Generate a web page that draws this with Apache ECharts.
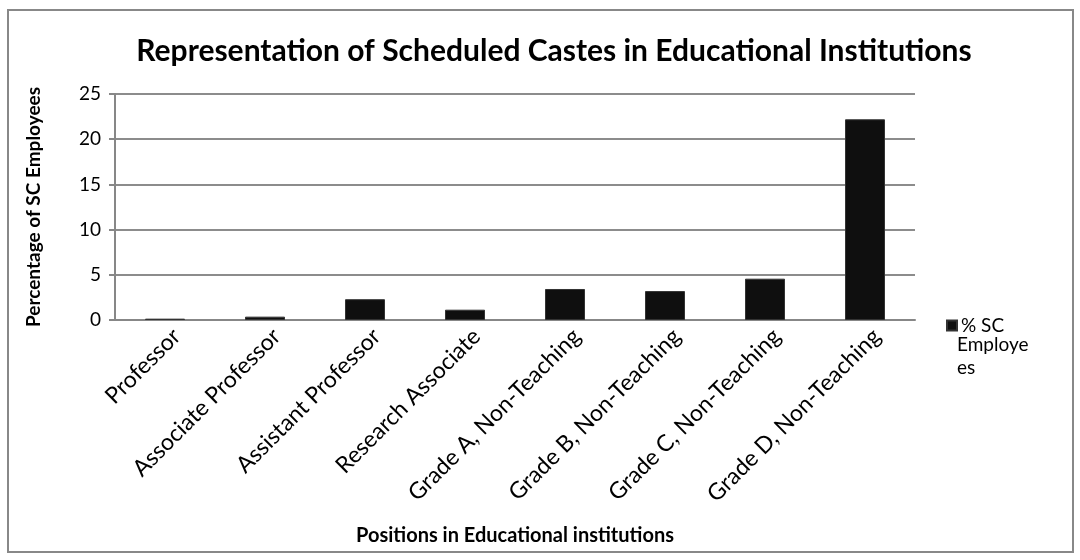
<!DOCTYPE html>
<html>
<head>
<meta charset="utf-8">
<script src="https://cdn.jsdelivr.net/npm/echarts@6/dist/echarts.min.js"></script>
<style>
  html, body { margin: 0; padding: 0; background: #fff; }
</style>
</head>
<body>
<div id="main" style="width: 1080px; height: 560px"></div>
<script>
// positions on the x axis
const positions = [
  "Professor",
  "Associate Professor",
  "Assistant Professor",
  "Research Associate",
  "Grade A, Non-Teaching",
  "Grade B, Non-Teaching",
  "Grade C, Non-Teaching",
  "Grade D, Non-Teaching"
];
// % of SC employees
const scPercent = [0.15, 0.37, 2.3, 1.14, 3.43, 3.2, 4.57, 22.2];
const seriesName = "% SC Employees";

const font = "Lato";
let myChart = echarts.init(document.getElementById("main"));
let option = {
  animation: false,
  textStyle: { fontFamily: font, color: "#000" },
  title: {
    text: "Representation of Scheduled Castes in Educational Institutions",
    left: 549,
    textAlign: "center",
    top: 31,
    textStyle: { fontFamily: font, fontSize: 30, fontWeight: "bold", color: "#000" }
  },
  legend: {
    data: [seriesName],
    left: 941,
    top: 311,
    itemWidth: 10,
    itemHeight: 10,
    itemGap: 6,
    icon: "rect",
    formatter: () => "% SC",
    textStyle: { fontFamily: font, fontSize: 19, color: "#000", padding: [0, 0, 0, -1] }
  },
  grid: {
    left: 115,
    right: 165,
    top: 94,
    bottom: 240
  },
  xAxis: {
    type: "category",
    data: positions,
    name: "Positions in Educational institutions",
    nameLocation: "middle",
    nameGap: 206,
    nameTextStyle: { fontFamily: font, fontSize: 20, fontWeight: "bold", color: "#000" },
    axisLine: { lineStyle: { color: "#878787", width: 2 } },
    axisTick: { show: false },
    axisLabel: {
      interval: 0,
      rotate: 45,
      margin: 8,
      fontFamily: font,
      fontSize: 23,
      color: "#000",
      verticalAlign: "top",
      padding: [0, -5, 0, 0]
    }
  },
  yAxis: {
    type: "value",
    min: 0,
    max: 25,
    interval: 5,
    name: "Percentage of SC Employees",
    nameLocation: "middle",
    nameRotate: 90,
    nameGap: 72,
    nameTextStyle: { fontFamily: font, fontSize: 19, fontWeight: "bold", color: "#000" },
    axisLine: { show: true, lineStyle: { color: "#878787", width: 2 } },
    axisTick: { show: true, length: 6, lineStyle: { color: "#878787", width: 2 } },
    axisLabel: { margin: 14, fontFamily: font, fontSize: 19, color: "#000" },
    splitLine: { lineStyle: { color: "#8c8c8c", width: 2 } }
  },
  series: [
    {
      name: seriesName,
      type: "bar",
      data: scPercent,
      barWidth: 40,
      itemStyle: { color: "#0f0f0f", borderColor: "#333", borderWidth: 1 }
    }
  ],
  graphic: [
    {
      type: "rect",
      shape: { x: 8, y: 10, width: 1065, height: 542 },
      style: { fill: "none", stroke: "#888", lineWidth: 2 },
      silent: true
    },
    {
      type: "text",
      left: 957,
      top: 333,
      style: {
        text: "Employe\nes",
        fontFamily: font,
        fontSize: 19,
        lineHeight: 23,
        fill: "#000"
      }
    }
  ]
};
myChart.setOption(option);
</script>
</body>
</html>
